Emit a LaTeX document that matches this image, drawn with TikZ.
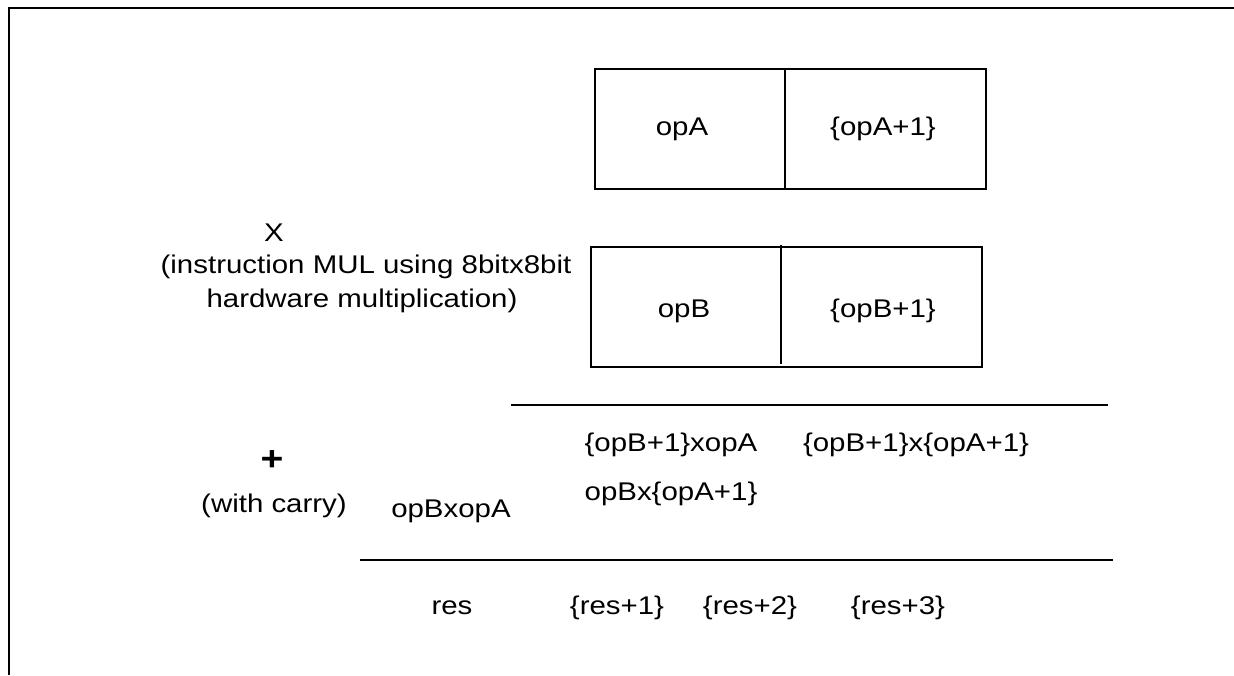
\documentclass[tikz,border=0pt]{standalone}
\usepackage{fontspec}
\setmainfont{Liberation Sans}[FakeStretch=1.15]
\begin{document}
\begin{tikzpicture}[x=1pt,y=-1pt,
  lab/.style={font=\fontsize{25.6}{30}\selectfont, inner sep=0pt, anchor=base},
  frame/.style={line width=2pt},
  boxline/.style={line width=1.6pt},
  rule/.style={line width=2pt}]
\useasboundingbox (0,0) rectangle (1234,675);
% frame
\draw[frame] (1234,8) -- (9,8) -- (9,675);
% operand A
\draw[boxline] (595,69) rectangle (986,189);
\draw[boxline] (785,69) -- (785,189);
\node[lab] (opA) at (682,135) {opA};
\node[lab] (opA1) at (883,135) {\{opA+1\}};
% operand B
\draw[boxline] (591,247) rectangle (982,367);
\draw[boxline] (781,245) -- (781,364);
\node[lab] (opB) at (684,317) {opB};
\node[lab] (opB1) at (883,317) {\{opB+1\}};
% left labels
\node[lab] (X) at (274,241) {X};
\node[lab] (mul1) at (366,273) {(instruction MUL using 8bitx8bit};
\node[lab] (mul2) at (362,307) {hardware multiplication)};
\node[lab, font=\fontsize{34}{40}\bfseries\selectfont] (plus) at (272,470) {+};
\node[lab] (carry) at (274,512) {(with carry)};
% rules
\draw[rule] (511,405) -- (1108,405);
\draw[rule] (360,560) -- (1113,560);
% partial products
\node[lab] (p1) at (671,451) {\{opB+1\}xopA};
\node[lab] (p2) at (916,451) {\{opB+1\}x\{opA+1\}};
\node[lab] (p3) at (671,500) {opBx\{opA+1\}};
\node[lab] (p0) at (451,517) {opBxopA};
% result
\node[lab] (r0) at (452,614) {res};
\node[lab] (r1) at (617,614) {\{res+1\}};
\node[lab] (r2) at (750,614) {\{res+2\}};
\node[lab] (r3) at (898,614) {\{res+3\}};
\end{tikzpicture}
\end{document}
